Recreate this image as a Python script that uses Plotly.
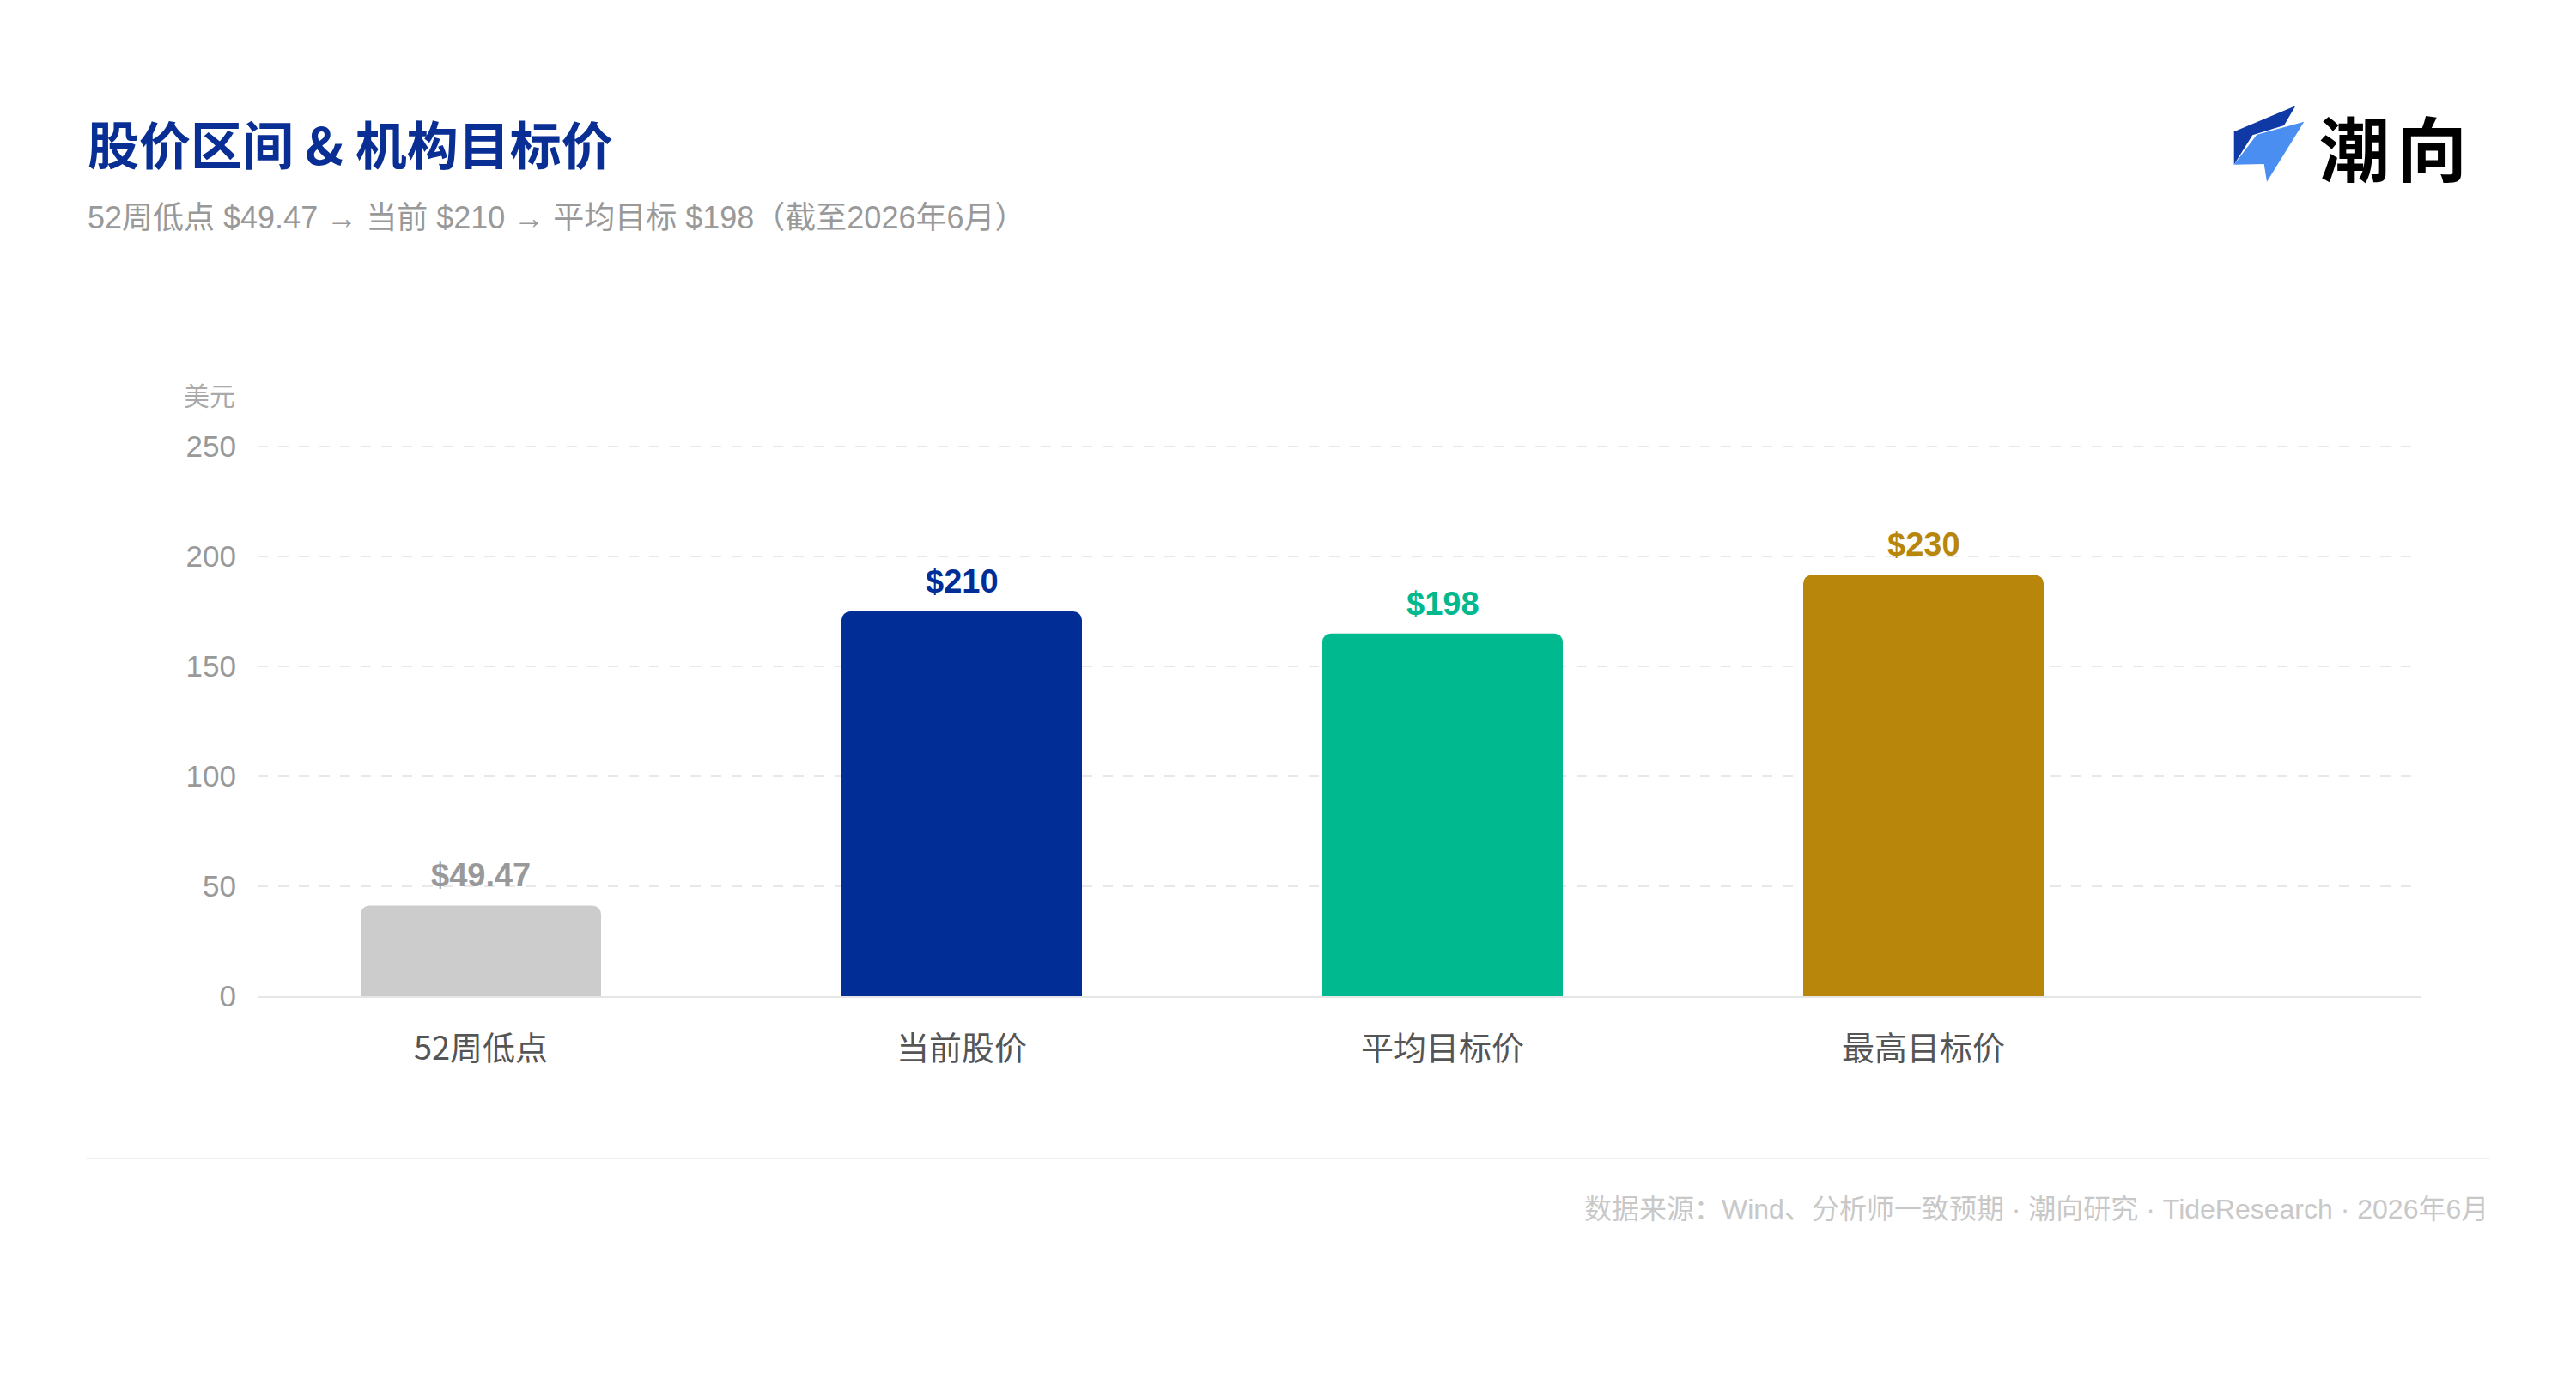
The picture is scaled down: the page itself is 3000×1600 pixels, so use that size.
import plotly.graph_objects as go

# ---- data ----
categories = ["52周低点", "当前股价", "平均目标价", "最高目标价"]
values = [49.47, 210, 198, 230]
value_labels = ["$49.47", "$210", "$198", "$230"]
bar_colors = ["#CCCCCC", "#002D96", "#00B98E", "#B8860B"]
label_colors = ["#999999", "#002D96", "#00B98E", "#B8860B"]
tick_labels = ["0", "50", "100", "150", "200", "250"]
axis_max = 300

W, H = 3000, 1600
OFF = 8  # page body margin offset
L, R, T, B = 292, 188, 510, 448
PW, PH = W - L - R, H - T - B
YMAX = axis_max + 1

def px(x):
    return (x - OFF - L) / PW

def py(y):
    return (H - B - (y - OFF)) / PH

FONT = "Liberation Sans, Arial, Noto Sans CJK SC, sans-serif"
CJK = "Noto Sans CJK SC, Liberation Sans, sans-serif"

fig = go.Figure()
fig.add_trace(go.Bar(
    x=categories, y=values, width=0.5,
    marker=dict(color=bar_colors, line=dict(width=0), cornerradius=10),
    hoverinfo="skip",
))

n = len(tick_labels)
tickvals = [axis_max * i / (n - 1) for i in range(n)]

annotations = []
for c, v, t, col in zip(categories, values, value_labels, label_colors):
    annotations.append(dict(x=c, y=v, xref="x", yref="y", text=f"<b>{t}</b>",
                            showarrow=False, yanchor="middle", yshift=35,
                            font=dict(family=FONT, size=38, color=col)))

# title / subtitle
annotations.append(dict(x=px(100), y=py(166), xref="paper", yref="paper",
                        xanchor="left", yanchor="middle", showarrow=False,
                        text="<b>股价区间 & 机构目标价</b>",
                        font=dict(family=CJK, size=60, color="#0A2F94")))
annotations.append(dict(x=px(100), y=py(253), xref="paper", yref="paper",
                        xanchor="left", yanchor="middle", showarrow=False,
                        text="52周低点 $49.47 → 当前 $210 → 平均目标 $198（截至2026年6月）",
                        font=dict(family=FONT, size=36, color="#999999")))
# y axis unit
annotations.append(dict(x=px(276), y=py(459), xref="paper", yref="paper",
                        xanchor="right", yanchor="middle", showarrow=False,
                        text="美元", font=dict(family=CJK, size=30, color="#AAAAAA")))
# logo text
annotations.append(dict(x=px(2742), y=py(170), xref="paper", yref="paper",
                        xanchor="center", yanchor="middle", showarrow=False,
                        text="<b>潮</b>", font=dict(family=CJK, size=82, color="#000000")))
annotations.append(dict(x=px(2832), y=py(170), xref="paper", yref="paper",
                        xanchor="center", yanchor="middle", showarrow=False,
                        text="<b>向</b>", font=dict(family=CJK, size=82, color="#000000")))
# footer
annotations.append(dict(x=px(2900), y=py(1408), xref="paper", yref="paper",
                        xanchor="right", yanchor="middle", showarrow=False,
                        text="数据来源：Wind、分析师一致预期 · 潮向研究 · TideResearch · 2026年6月",
                        font=dict(family=FONT, size=32, color="#C8C8C8")))

def path(points):
    return "M " + " L ".join(f"{px(x):.5f},{py(y):.5f}" for x, y in points) + " Z"

dark = [(2601.7, 153.3), (2673.3, 123.3), (2660, 146), (2623.3, 157.3), (2601.7, 191.7)]
light = [(2628.3, 156.7), (2683.3, 141.7), (2640, 211.7), (2636.7, 191), (2601.7, 191.7)]

shapes = [
    dict(type="path", xref="paper", yref="paper", path=path(dark),
         fillcolor="#0F3AA6", line=dict(width=0)),
    dict(type="path", xref="paper", yref="paper", path=path(light),
         fillcolor="#4A8EF2", line=dict(width=0)),
    dict(type="line", xref="paper", yref="paper", x0=px(100), x1=px(2900),
         y0=py(1349), y1=py(1349), line=dict(color="#F0F0F0", width=2)),
]

x_left = -(560 - 300) / 560
x_right = (2820 - 560) / 560

fig.update_layout(
    width=W, height=H,
    margin=dict(l=L, r=R, t=T, b=B, autoexpand=False),
    paper_bgcolor="white", plot_bgcolor="white",
    showlegend=False,
    font=dict(family=FONT),
    annotations=annotations,
    shapes=shapes,
    xaxis=dict(type="category", range=[x_left, x_right],
               showgrid=False, showline=True, linecolor="#E6E6E6", linewidth=2,
               ticks="", ticklabelstandoff=26,
               tickfont=dict(family=CJK, size=38, color="#555555"),
               fixedrange=True),
    yaxis=dict(range=[0, YMAX], tickvals=tickvals, ticktext=tick_labels,
               showgrid=True, gridcolor="#E8E8E8", gridwidth=2, griddash="12px,12px",
               zeroline=False, showline=False, ticks="", ticklabelstandoff=24,
               tickfont=dict(family=FONT, size=35, color="#999999"),
               fixedrange=True),
)

fig.write_html("out.html")
